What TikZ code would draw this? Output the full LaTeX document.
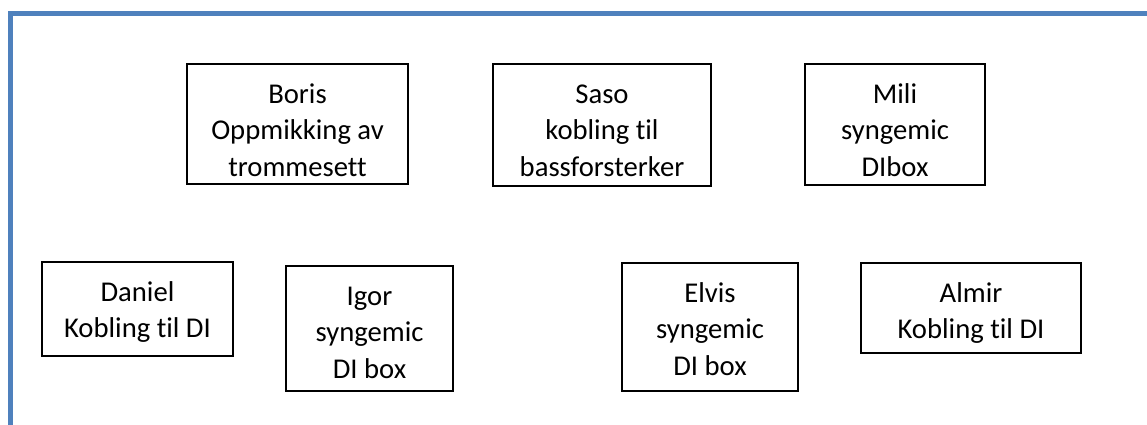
\documentclass[tikz,border=0pt]{standalone}
\usepackage{fontspec}
\setmainfont{Carlito}[Ligatures=NoCommon]
\usepackage{xcolor}
\definecolor{frameblue}{HTML}{4F81BD}

% box text, top aligned like a text box
\newcommand{\crewbox}[3]{\parbox[c][#2][t]{#1}{\centering\rule{0pt}{29.6pt}#3}}

\begin{document}
\begin{tikzpicture}[
  x=0.75pt, y=-0.75pt,
  every node/.style={rectangle, draw, line width=0.9pt, inner sep=0pt,
    font=\fontsize{21.5}{27.25}\selectfont}
]
\useasboundingbox (0,0) rectangle (1147,425);

% frame
\draw[frameblue, line width=3.75pt] (10.5,425) |- (1147,13.5);

% top row
\node (boris) at (297.5,124) {\crewbox{165.75pt}{90pt}{Boris\\Oppmikking av\\trommesett}};
\node (saso) at (602,125) {\crewbox{163.5pt}{91.5pt}{Saso\\kobling til\\bassforsterker}};
\node (mili) at (895,124.5) {\crewbox{135pt}{90.75pt}{Mili\\syngemic\\DIbox}};

% bottom row
\node (daniel) at (137.5,309) {\crewbox{143.25pt}{70.5pt}{Daniel\\Kobling til DI}};
\node (igor) at (369.5,328.5) {\crewbox{125.25pt}{93.75pt}{Igor\\syngemic\\DI box}};
\node (elvis) at (710,327) {\crewbox{132pt}{96pt}{Elvis\\syngemic\\DI box}};
\node (almir) at (971,308) {\crewbox{165pt}{67.5pt}{Almir\\Kobling til DI}};

\end{tikzpicture}
\end{document}
